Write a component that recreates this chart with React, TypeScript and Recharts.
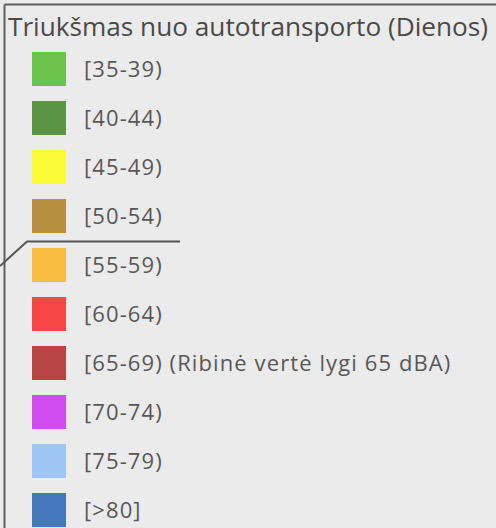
import { BarChart, Bar, XAxis, YAxis, Cell, LabelList } from 'recharts';

// noise classes shown in the legend (dBA, daytime road traffic)
const classLabels = [
  '[35-39)',
  '[40-44)',
  '[45-49)',
  '[50-54)',
  '[55-59)',
  '[60-64)',
  '[65-69) (Ribinė vertė lygi 65 dBA)',
  '[70-74)',
  '[75-79)',
  '[>80]',
];
const classColors = [
  '#6cc24a', '#5b9445', '#fbfb3a', '#b88f3e', '#f9bd43',
  '#f64645', '#b74546', '#d04cee', '#9fc5f5', '#4678be',
];
// each class is one legend entry
const entryCount = [1, 1, 1, 1, 1, 1, 1, 1, 1, 1];

const title = 'Triukšmas nuo autotransporto (Dienos)';

const data = classLabels.map((label, i) => ({ label, v: entryCount[i] }));

const SWATCH = 34;
const W = 496;
const H = 528;

export default function App() {
  return (
    <div style={{ position: 'fixed', left: 0, top: 0, width: W, height: H, overflow: 'hidden', background: '#ebebeb' }}>
      <BarChart
        width={W}
        height={534}
        data={data}
        layout="vertical"
        margin={{ top: 44, right: 0, bottom: 0, left: 32 }}
        barCategoryGap={0}
      >
        <XAxis type="number" hide domain={[0, (W - 32) / SWATCH]} />
        <YAxis type="category" dataKey="label" hide />
        <Bar dataKey="v" barSize={SWATCH} isAnimationActive={false}>
          {data.map((d, i) => (
            <Cell key={d.label} fill={classColors[i]} />
          ))}
          <LabelList
            dataKey="label"
            position="right"
            offset={18}
            fill="#585858"
            style={{ fontFamily: 'Open Sans', fontSize: 22, letterSpacing: 1.1 }}
          />
        </Bar>
      </BarChart>
      <svg width={W} height={H} style={{ position: 'absolute', left: 0, top: 0, pointerEvents: 'none' }}>
        <line x1={4.5} y1={4.5} x2={W} y2={4.5} stroke="#5e5e5e" strokeWidth={2} />
        <line x1={4.5} y1={4.5} x2={4.5} y2={H} stroke="#5e5e5e" strokeWidth={2} />
        <polyline points="0,266 27,241.5 180,241.5" fill="none" stroke="#555" strokeWidth={2} />
        <text
          x={8}
          y={36}
          fill="#4a4a4a"
          fontFamily="Open Sans"
          fontSize={25}
          textLength={480}
          lengthAdjust="spacingAndGlyphs"
        >
          {title}
        </text>
      </svg>
    </div>
  );
}
